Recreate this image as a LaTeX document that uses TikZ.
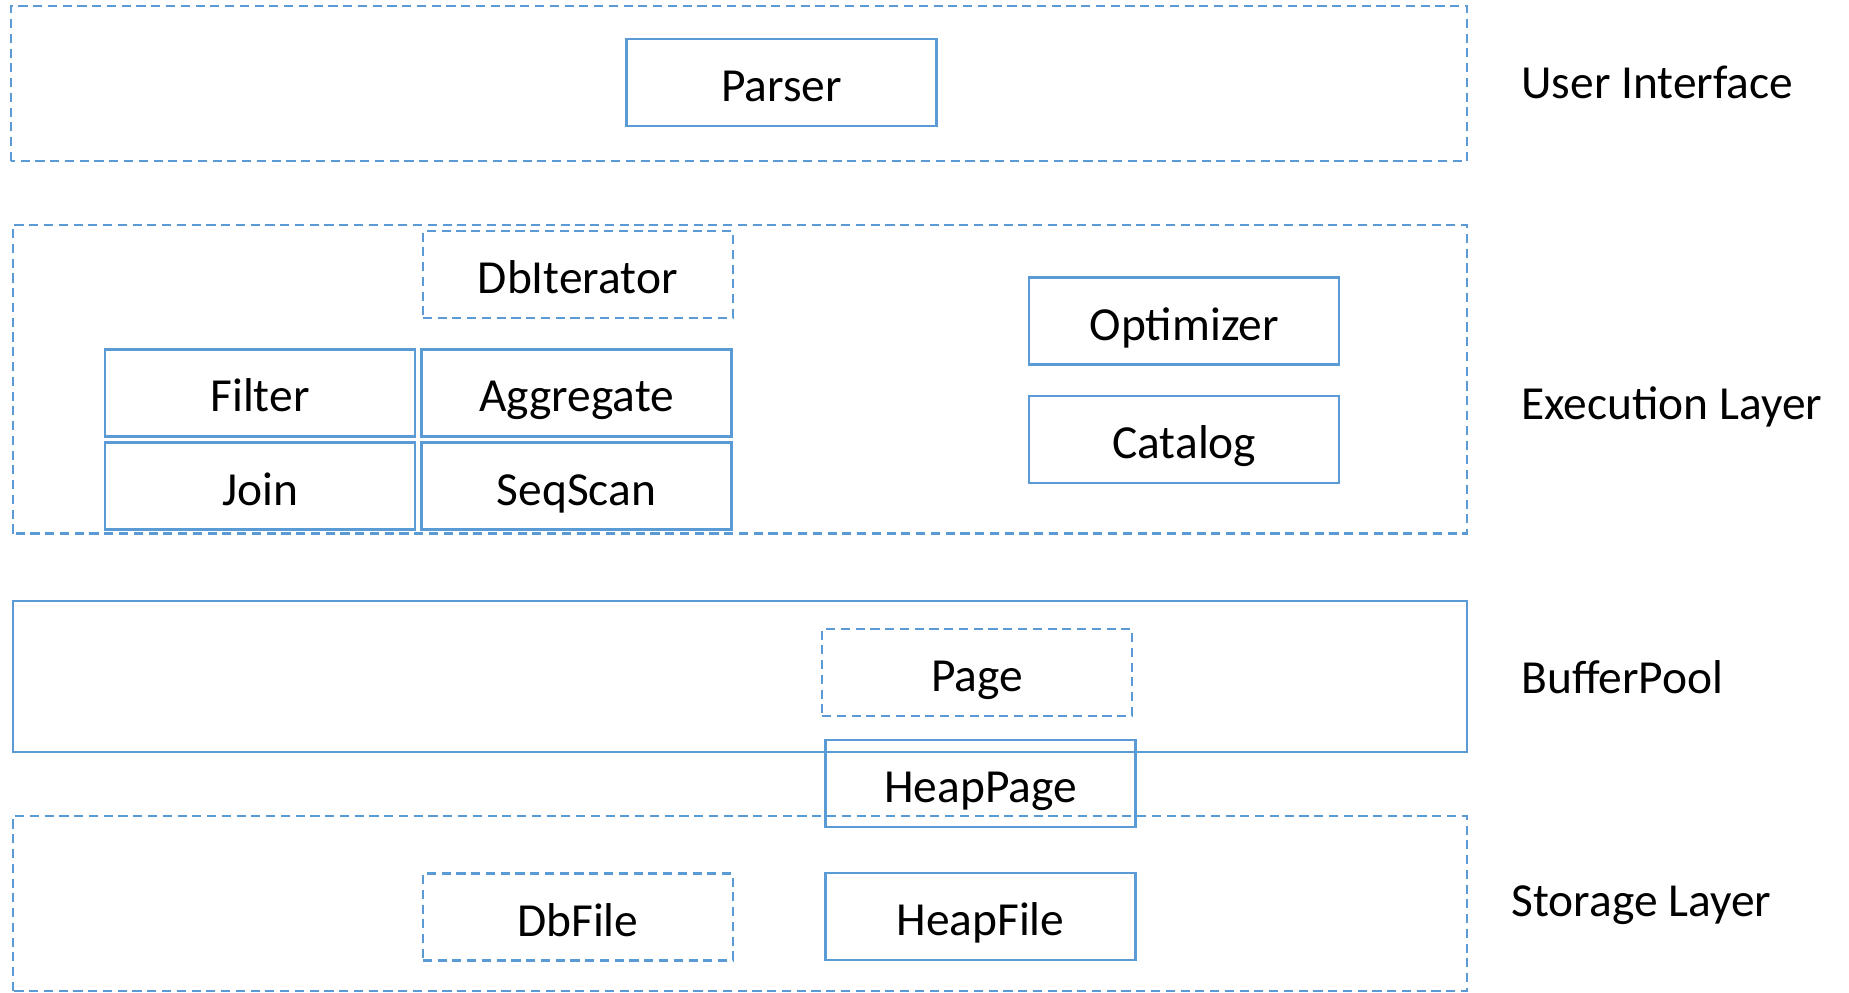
\documentclass[tikz,border=0pt]{standalone}
\usepackage{fontspec}
\setmainfont{Carlito}
\usepackage{tikz}
\usetikzlibrary{positioning,calc}

\definecolor{lineblue}{HTML}{5B9BD5}

\begin{document}
\begin{tikzpicture}[
  x=1cm,y=1cm,
  layer/.style={draw=lineblue,line width=0.65pt},
  dlayer/.style={layer,dash pattern=on 2.6pt off 1.6pt},
  box/.style={draw=lineblue,line width=0.65pt,minimum width=3.1cm,minimum height=0.87cm,
              inner sep=0pt,outer sep=0pt,text height=0.38cm,text depth=0pt,
              font=\fontsize{13.5pt}{16pt}\selectfont},
  dbox/.style={box,dash pattern=on 2.6pt off 1.6pt},
  lab/.style={anchor=base west,inner sep=0pt,font=\fontsize{13.5pt}{16pt}\selectfont}
]
\useasboundingbox (0,0) rectangle (18.49,9.92);

% -------------------------
% User interface
% -------------------------
\draw[dlayer] (0.11,8.31) rectangle (14.67,9.86);
\node[box] (parser) at (7.815,9.093) {Parser};
\node[lab] (ui_lab) at (15.207,8.933) {User Interface};

% -------------------------
% Execution layer
% -------------------------
\draw[dlayer] (0.13,4.585) rectangle (14.67,7.67);
\node[dbox] (dbit) at (5.778,7.175) {DbIterator};
\node[box] (filter) at (2.60,5.99) {Filter};
\node[box] (aggr) at (5.765,5.99) {Aggregate};
\node[box] (join) at (2.60,5.06) {Join};
\node[box] (seqscan) at (5.765,5.06) {SeqScan};
\node[box] (optim) at (11.843,6.71) {Optimizer};
\node[box] (catalog) at (11.843,5.528) {Catalog};
\node[lab] (exec_lab) at (15.207,5.724) {Execution Layer};

% -------------------------
% Buffer pool
% -------------------------
\draw[layer] (0.13,2.40) rectangle (14.67,3.91);
\node[dbox] (page) at (9.77,3.195) {Page};
\node[box] (heappage) at (9.805,2.085) {HeapPage};
\node[lab] (bp_lab) at (15.207,2.983) {BufferPool};

% -------------------------
% Storage layer
% -------------------------
\draw[dlayer] (0.13,0.01) rectangle (14.67,1.76);
\node[dbox] (dbfile) at (5.778,0.75) {DbFile};
\node[box] (heapfile) at (9.805,0.753) {HeapFile};
\node[lab] (st_lab) at (15.11,0.755) {Storage Layer};

\end{tikzpicture}
\end{document}
